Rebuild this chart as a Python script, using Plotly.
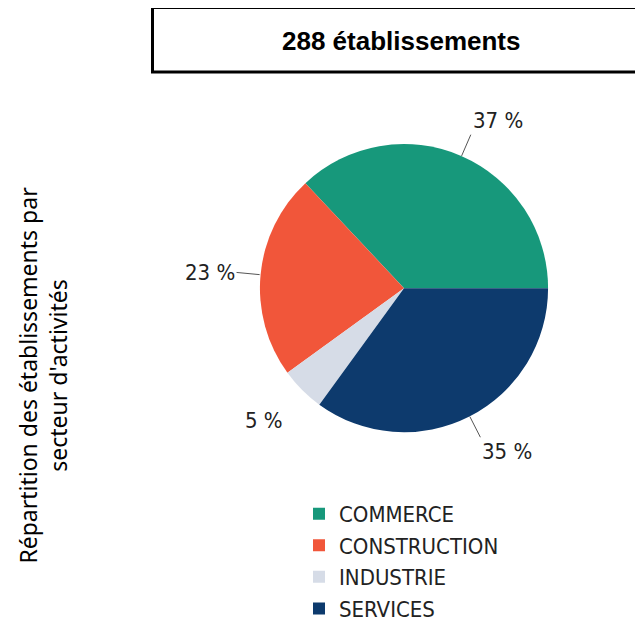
import numpy as np
import plotly.graph_objects as go

# ---- data ----
categories = ["COMMERCE", "CONSTRUCTION", "INDUSTRIE", "SERVICES"]
percents = [37, 23, 5, 35]
total_label = "288 établissements"
y_title = "Répartition des établissements par<br>secteur d'activités"
leader_visible = [True, True, False, True]

colors = ["#17987b", "#f1563a", "#d6dce7", "#0d3a6d"]

W, H = 643, 622
OX, OY = 8, 8  # page body margin


def px(x):
    return (x - OX) / W


def py(y):
    return 1 - (y - OY) / H


cx, cy, R = 404, 290, 145
dom_x = [px(cx - R), px(cx + R)]
dom_y = [py(cy + R), py(cy - R)]

vals = np.array(percents, dtype=float)
start_rot = 90 - 360 * vals[0] / vals.sum()

fig = go.Figure()
fig.add_trace(go.Pie(
    labels=categories, values=percents, sort=False,
    direction="counterclockwise", rotation=start_rot,
    marker=dict(colors=colors, line=dict(width=0)),
    textinfo="none", hoverinfo="label+percent",
    domain=dict(x=dom_x, y=dom_y), showlegend=True,
))

# outside labels with leader lines, placed from each slice's mid angle
cum = np.cumsum(vals) - vals / 2
mid = np.radians(360 * cum / vals.sum())
label_font = dict(family="Liberation Sans Narrow, DejaVu Sans Condensed, sans-serif",
                  size=22, color="#222222")
annotations = []
for p, m, show in zip(percents, mid, leader_visible):
    c, s = np.cos(m), np.sin(m)
    annotations.append(dict(
        text=f"{p} %", xref="paper", yref="paper",
        x=px(cx + R * c), y=py(cy - R * s),
        ax=0.16 * R * c, ay=-0.16 * R * s,
        showarrow=True, arrowhead=0, arrowwidth=1, standoff=0, startstandoff=0,
        arrowcolor="#555555" if show else "rgba(0,0,0,0)",
        xanchor="left" if c > 0 else "right",
        yanchor="bottom" if s > 0.5 else ("top" if s < -0.5 else "middle"),
        font=label_font,
    ))

annotations += [
    dict(text=f"<b>{total_label}</b>", x=px(401), y=py(41),
         xref="paper", yref="paper", showarrow=False,
         xanchor="center", yanchor="middle",
         font=dict(family="Liberation Sans, Arial, sans-serif", size=26, color="black")),
    dict(text=y_title, x=px(43), y=py(378), textangle=-90,
         xref="paper", yref="paper", showarrow=False,
         xanchor="center", yanchor="middle",
         font=dict(family="Noto Sans, sans-serif", size=23, color="black")),
]

fig.update_layout(
    width=W, height=H, autosize=False,
    margin=dict(l=0, r=0, t=0, b=0),
    paper_bgcolor="white", plot_bgcolor="white",
    legend=dict(
        x=px(299), y=py(496), xanchor="left", yanchor="top",
        font=dict(family="Liberation Sans Narrow, DejaVu Sans Condensed, sans-serif",
                  size=22, color="#222222"),
        bgcolor="rgba(0,0,0,0)",
    ),
    shapes=[dict(
        type="rect", xref="paper", yref="paper",
        x0=px(152.5), x1=1.05, y0=py(72.5), y1=py(7.5),
        line=dict(color="black", width=3), fillcolor="rgba(0,0,0,0)",
    )],
    annotations=annotations,
)

fig.write_html("out.html")
